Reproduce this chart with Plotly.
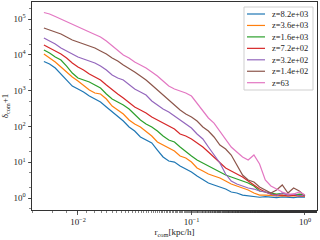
import plotly.graph_objects as go

r_com = [0.00501, 0.00562, 0.00631, 0.00708, 0.00794, 0.00891, 0.0100, 0.0112, 0.0126, 0.0141,
         0.0158, 0.0178, 0.0200, 0.0224, 0.0251, 0.0282, 0.0316, 0.0355, 0.0398, 0.0447,
         0.0501, 0.0562, 0.0631, 0.0708, 0.0794, 0.0891, 0.100, 0.112, 0.126, 0.141,
         0.158, 0.178, 0.200, 0.224, 0.251, 0.282, 0.316, 0.355, 0.398, 0.447,
         0.501, 0.562, 0.631, 0.708, 0.794, 0.891, 1.00]

labels = ["z=8.2e+03", "z=3.6e+03", "z=1.6e+03", "z=7.2e+02", "z=3.2e+02", "z=1.4e+02", "z=63"]
colors = ["#1f77b4", "#ff7f0e", "#2ca02c", "#d62728", "#9467bd", "#8c564b", "#e377c2"]

delta_z8200 = [6490, 5530, 4280, 2900, 1980, 1340, 1110, 914, 706, 582,
               480, 348, 252, 195, 141, 96.2, 74.3, 50.6, 41.7, 34.4,
               21.9, 14.0, 10.8, 10.1, 7.83, 6.46, 5.32, 4.12, 3.18, 2.62,
               2.31, 2.03, 1.78, 1.47, 1.38, 1.21, 1.14, 1.07, 1.05, 1.10,
               1.07, 1.03, 1.08, 1.06, 1.03, 1.07, 1.06]
delta_z3600 = [10500, 8130, 6290, 4560, 3300, 2400, 1850, 1430, 1040, 857,
               803, 582, 371, 287, 222, 151, 117, 96.2, 74.3, 53.9,
               36.6, 30.2, 24.9, 20.5, 14.9, 13.1, 10.1, 6.89, 5.68, 4.68,
               4.12, 3.62, 2.98, 2.46, 2.16, 1.90, 1.67, 1.38, 1.21, 1.21,
               1.17, 1.14, 1.17, 1.14, 1.14, 1.17, 1.14]
delta_z1600 = [13600, 11200, 8670, 7160, 4860, 3100, 2250, 1980, 1740, 1430,
               1180, 803, 582, 480, 396, 306, 222, 151, 117, 96.2,
               74.3, 53.9, 41.7, 36.6, 26.6, 19.3, 14.9, 11.5, 9.50, 7.83,
               6.46, 5.32, 4.39, 3.86, 3.40, 2.98, 2.62, 2.16, 1.57, 1.47,
               1.38, 1.29, 1.34, 1.29, 1.21, 1.29, 1.25]
delta_z720 = [18700, 15500, 12800, 10500, 8130, 5900, 4560, 3760, 2900, 2400,
              1980, 1430, 1040, 803, 621, 450, 348, 287, 237, 183,
              151, 124, 103, 84.6, 61.4, 53.9, 44.5, 34.4, 26.6, 19.3,
              14.0, 9.50, 6.89, 5.68, 4.68, 3.86, 2.98, 2.31, 1.78, 1.47,
              1.29, 1.21, 1.21, 1.14, 1.21, 1.14, 1.14]
delta_z320 = [29400, 24300, 20000, 15500, 12800, 10500, 8670, 7620, 6710, 5900,
              4860, 3760, 2730, 2250, 1980, 1430, 1110, 914, 753, 512,
              396, 306, 252, 195, 151, 117, 90.2, 61.4, 44.5, 26.6,
              15.9, 9.50, 4.68, 2.98, 2.46, 2.16, 1.90, 1.78, 1.57, 1.47,
              1.29, 1.14, 1.38, 1.21, 1.29, 1.14, 1.21]
delta_z140 = [56000, 49200, 43300, 38000, 31400, 25900, 22800, 20000, 17600, 15500,
              12800, 10500, 8130, 6710, 5190, 4010, 3300, 2560, 1980, 1430,
              1040, 803, 546, 396, 287, 222, 183, 141, 96.2, 74.3,
              50.6, 30.2, 23.4, 15.9, 8.35, 4.39, 3.18, 2.80, 2.03, 1.67,
              1.38, 1.67, 2.31, 1.38, 1.90, 1.57, 1.14]
delta_z63 = [152000, 138000, 117000, 100000, 85000, 72000, 59700, 52500, 43300, 36900,
             31400, 24300, 17600, 12800, 9860, 8130, 6290, 5190, 4280, 3300,
             2560, 1850, 1340, 1110, 974, 857, 706, 450, 287, 172,
             124, 74.3, 41.7, 26.6, 19.3, 14.0, 11.5, 15.9, 8.9, 3.18,
             2.16, 1.78, 1.47, 1.29, 1.29, 1.47, 1.21]

series = [delta_z8200, delta_z3600, delta_z1600, delta_z720, delta_z320, delta_z140, delta_z63]

x_tickvals = [0.01, 0.1, 1]
x_ticktext = ["10<sup>−2</sup>", "10<sup>−1</sup>", "10<sup>0</sup>"]
y_tickvals = [1, 10, 100, 1000, 10000, 100000]
y_ticktext = ["10<sup>0</sup>", "10<sup>1</sup>", "10<sup>2</sup>", "10<sup>3</sup>", "10<sup>4</sup>", "10<sup>5</sup>"]

FONT = "Liberation Serif"
TXT = "#222222"
W, H = 320, 240
ML, MR, MT, MB = 32, 3, 2, 30
PW, PH = W - ML - MR, H - MT - MB


def px_x(px):
    return (px - ML) / PW


def px_y(py):
    return (H - MB - py) / PH


fig = go.Figure()
for lab, col, ys in zip(labels, colors, series):
    fig.add_trace(go.Scatter(x=r_com, y=ys, mode="lines", name=lab,
                             line=dict(color=col, width=1.2), showlegend=False))

axis_common = dict(showline=True, mirror=True, linecolor="#333333", linewidth=1,
                   ticks="outside", ticklen=3.5, tickwidth=0.8, tickcolor="#333333",
                   showgrid=False, zeroline=False,
                   tickfont=dict(family=FONT, size=9, color=TXT),
                   minor=dict(ticks="outside", ticklen=2, tickwidth=0.6, tickcolor="#333333", showgrid=False))

fig.update_xaxes(type="log", range=[-2.405, 0.106], tickvals=x_tickvals, ticktext=x_ticktext,
                 title=dict(text="r<sub>com</sub>[kpc/h]", font=dict(family=FONT, size=9, color=TXT), standoff=2),
                 **axis_common)
fig.update_yaxes(type="log", range=[-0.335, 5.475], tickvals=y_tickvals, ticktext=y_ticktext,
                 title=dict(text="δ<sub>com</sub>+1", font=dict(family=FONT, size=9, color=TXT), standoff=3),
                 **axis_common)

# custom compact legend (matplotlib style)
shapes = [dict(type="rect", xref="paper", yref="paper",
               x0=px_x(244), x1=px_x(313), y0=px_y(90), y1=px_y(7),
               line=dict(color="#cfcfcf", width=1), fillcolor="rgba(255,255,255,0.85)", layer="above")]
annotations = []
for i, (lab, col) in enumerate(zip(labels, colors)):
    cy = 14 + i * 11.45
    shapes.append(dict(type="line", xref="paper", yref="paper",
                       x0=px_x(247), x1=px_x(265), y0=px_y(cy), y1=px_y(cy),
                       line=dict(color=col, width=1.2), layer="above"))
    annotations.append(dict(xref="paper", yref="paper", x=px_x(270), y=px_y(cy),
                            xanchor="left", yanchor="middle", showarrow=False,
                            text=lab, font=dict(family=FONT, size=8.5, color=TXT)))

fig.update_layout(
    width=W, height=H,
    margin=dict(l=ML, r=MR, t=MT, b=MB),
    paper_bgcolor="white", plot_bgcolor="white",
    font=dict(family=FONT, size=9, color=TXT),
    shapes=shapes, annotations=annotations,
    showlegend=False,
)

fig.write_html("out.html", config={"displayModeBar": False, "staticPlot": True},
               post_script="document.body.style.margin='0';")
